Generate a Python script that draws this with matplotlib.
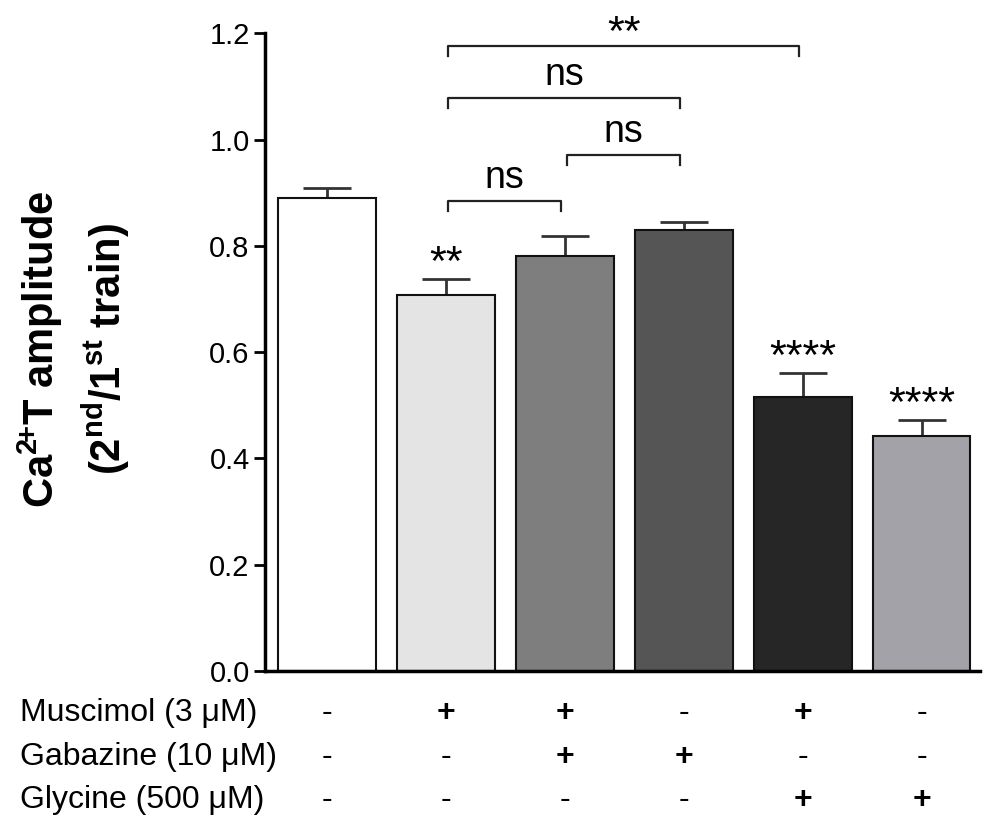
import matplotlib
matplotlib.use("Agg")
import matplotlib.pyplot as plt
import matplotlib.transforms as mtransforms
import numpy as np

plt.rcParams['font.family'] = ['Liberation Sans', 'DejaVu Sans']
plt.rcParams['mathtext.fontset'] = 'custom'
plt.rcParams['mathtext.rm'] = 'Liberation Sans'
plt.rcParams['mathtext.bf'] = 'Liberation Sans:bold'

# data
means = [0.890, 0.707, 0.781, 0.829, 0.515, 0.442]
sems = [0.018, 0.030, 0.037, 0.016, 0.045, 0.030]
bar_colors = ['#ffffff', '#e4e4e4', '#7e7e7e', '#555555', '#262626', '#a2a2a8']
bar_stars = ['', '**', '', '', '****', '****']

row_labels = [u'Muscimol (3 \u03bcM)', u'Gabazine (10 \u03bcM)', u'Glycine (500 \u03bcM)']
muscimol = ['-', '+', '+', '-', '+', '-']
gabazine = ['-', '-', '+', '+', '-', '-']
glycine = ['-', '-', '-', '-', '+', '+']

# comparisons: (left bar, right bar, bracket height, label)
brackets = [(1, 4, 1.1755, '**'), (1, 3, 1.078, 'ns'), (2, 3, 0.9705, 'ns'), (1, 2, 0.884, 'ns')]

x = np.arange(len(means))

fig = plt.figure(figsize=(10, 8.31), dpi=100)
ax = fig.add_axes([0.265, 0.1925, 0.715, 0.7675])

ax.errorbar(x, means, yerr=[np.zeros(len(sems)), sems], fmt='none', ecolor='#333333',
            elinewidth=2, capsize=17, capthick=2, zorder=1)
ax.bar(x, means, width=0.82, color=bar_colors, edgecolor='#111111', linewidth=1.5, zorder=2)

for i, s in enumerate(bar_stars):
    if s:
        ax.text(x[i], means[i] + sems[i] + 0.008, s, ha='center', va='baseline', fontsize=31)

tk = 0.019
for a, b, h, lab in brackets:
    xa = x[a] + 0.02
    xb = x[b] - 0.03
    ax.plot([xa, xa, xb, xb], [h - tk, h, h, h - tk], color='#222222', lw=1.6, clip_on=False)
    if lab == 'ns':
        ax.text((xa + xb) / 2, h + 0.024, lab, ha='center', va='baseline', fontsize=27)
    else:
        ax.text((xa + xb) / 2, h + 0.002, lab, ha='center', va='baseline', fontsize=31, clip_on=False)

ax.set_xlim(-0.52, 5.49)
ax.set_ylim(0, 1.2)
ax.set_yticks(np.arange(0, 1.21, 0.2))
ax.set_yticklabels(['%.1f' % v for v in np.arange(0, 1.21, 0.2)], fontsize=21)
ax.set_xticks([])
ax.spines['top'].set_visible(False)
ax.spines['right'].set_visible(False)
ax.spines['left'].set_linewidth(2.5)
ax.spines['bottom'].set_linewidth(2.5)
ax.tick_params(axis='y', width=2, length=8, pad=3)

fig.text(0.074, 0.58, r'Ca$^{\mathbf{2}\!\mathbf{+}}$T amplitude' + '\n' + r'(2$^{\mathbf{nd}}$/1$^{\mathbf{st}}$ train)',
         rotation=90, ha='center', va='center', fontsize=30, fontweight='bold',
         multialignment='center', linespacing=1.4)

rows = [muscimol, gabazine, glycine]
row_y = [-0.066, -0.135, -0.202]
trans = mtransforms.blended_transform_factory(fig.transFigure, ax.transAxes)
for r, (lab, signs) in enumerate(zip(row_labels, rows)):
    ax.text(0.02, row_y[r], lab, transform=trans, ha='left', va='center', fontsize=23)
    for i, s in enumerate(signs):
        ax.text(x[i], row_y[r], s, transform=ax.get_xaxis_transform(), ha='center', va='center',
                fontsize=23, fontweight='bold' if s == '+' else 'normal')

fig.savefig('out.png', dpi=100)
